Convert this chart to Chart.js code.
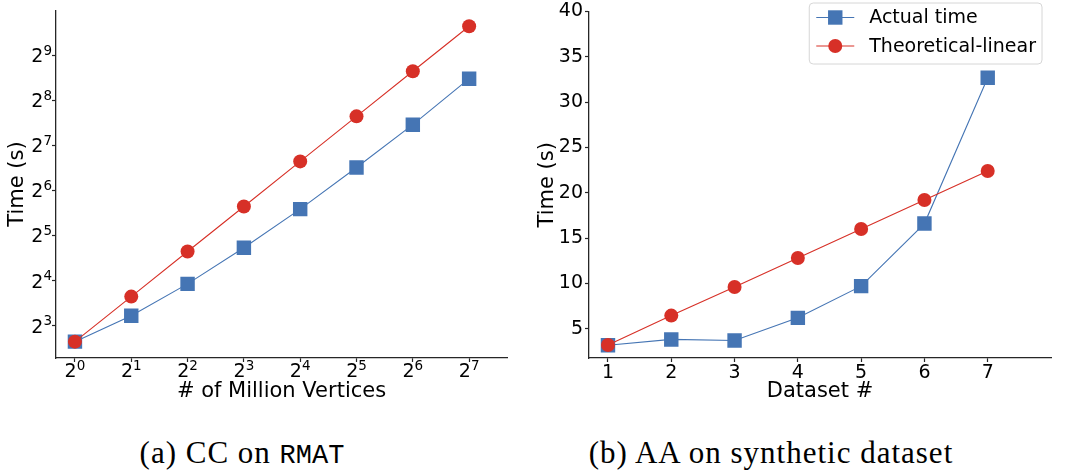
<!DOCTYPE html>
<html>
<head>
<meta charset="utf-8">
<script src="https://cdn.jsdelivr.net/npm/chart.js@4.4.0/dist/chart.umd.min.js"></script>
<style>
    body { margin: 0; background: #fff; width: 1068px; height: 476px; overflow: hidden; position: relative; }
    canvas { position: absolute; top: 0; }
    #ccChart { left: 0; }
    #aaChart { left: 534px; }
    .caption {
        position: absolute; top: 435px; transform: translateX(-50%);
        font-family: 'Liberation Serif', serif; font-size: 31px; letter-spacing: 1px;
        color: #000; white-space: nowrap;
    }
    .caption code { font-family: 'Liberation Mono', monospace; font-size: 27px; letter-spacing: 0; }
</style>
</head>
<body>
<canvas id="ccChart" width="534" height="420"></canvas>
<canvas id="aaChart" width="534" height="420"></canvas>
<div class="caption" style="left: 242px;">(a) CC on <code>RMAT</code></div>
<div class="caption" style="left: 771px;">(b) AA on synthetic dataset</div>

<script>
// (a) CC on RMAT
const ccVertices = [1, 2, 4, 8, 16, 32, 64, 128];
const ccActual = [6.25, 9.3, 15.2, 26.5, 48, 91, 176, 357];
const ccTheory = [6.25, 12.5, 25, 50, 100, 200, 400, 800];
const ccXTickLabels = ['2^0', '2^1', '2^2', '2^3', '2^4', '2^5', '2^6', '2^7'];
const ccYTicks = [8, 16, 32, 64, 128, 256, 512];
const ccYTickLabels = ['2^3', '2^4', '2^5', '2^6', '2^7', '2^8', '2^9'];

// (b) AA on synthetic dataset
const aaDatasets = [1, 2, 3, 4, 5, 6, 7];
const aaActual = [3.17, 3.82, 3.7, 6.2, 9.7, 16.6, 32.7];
const aaTheory = [3.2, 6.45, 9.6, 12.8, 16.0, 19.2, 22.4];
const aaYTicks = [5, 10, 15, 20, 25, 30, 35, 40];

const seriesNames = ['Actual time', 'Theoretical-linear'];
const BLUE = '#4575b4';
const RED = '#d73027';
const AXIS = '#262626';
const SANS = "'DejaVu Sans', sans-serif";

function toPoints(xs, ys) {
    return xs.map((x, i) => ({ x: x, y: ys[i] }));
}

// 赤を上に描くため、赤を先頭のデータセットにする
function makeDatasets(xs, actual, theory) {
    return [
        {
            label: seriesNames[1], data: toPoints(xs, theory),
            borderColor: RED, backgroundColor: RED, borderWidth: 1.1,
            pointStyle: 'circle', pointRadius: 7, pointBorderWidth: 0
        },
        {
            label: seriesNames[0], data: toPoints(xs, actual),
            borderColor: BLUE, backgroundColor: BLUE, borderWidth: 1.1,
            pointStyle: 'rect', pointRadius: 10.2, pointBorderWidth: 0
        }
    ];
}

function axisStyle(title, titlePad) {
    return {
        border: { display: true, color: AXIS, width: 1.3 },
        grid: { drawOnChartArea: false, drawTicks: true, tickLength: 4, tickColor: AXIS, tickWidth: 1.2 },
        title: { display: true, text: title, color: '#000', font: { family: SANS, size: 21 }, padding: titlePad }
    };
}

function fixedTicks(values) {
    return scale => { scale.ticks = values.map(v => ({ value: v })); };
}

// 2^n 形式の目盛りラベル(指数を小さく上付きで描く)
const powerTickLabels = {
    id: 'powerTickLabels',
    afterDraw(chart) {
        const opts = chart.options.plugins.powerTickLabels;
        if (!opts) return;
        const ctx = chart.ctx;
        const baseFont = '19px ' + SANS;
        const expFont = '13.5px ' + SANS;
        ctx.save();
        ctx.fillStyle = '#000';
        ctx.textBaseline = 'alphabetic';
        ctx.textAlign = 'left';
        const measure = (base, exp) => {
            ctx.font = baseFont;
            const wb = ctx.measureText(base).width;
            ctx.font = expFont;
            return [wb, wb + ctx.measureText(exp).width];
        };
        const draw = (base, exp, left, baseline, wb) => {
            ctx.font = baseFont;
            ctx.fillText(base, left, baseline);
            ctx.font = expFont;
            ctx.fillText(exp, left + wb, baseline - 7.3);
        };
        const xs = chart.scales.x, ys = chart.scales.y;
        opts.xValues.forEach((v, i) => {
            const [base, exp] = opts.xLabels[i].split('^');
            const [wb, w] = measure(base, exp);
            draw(base, exp, xs.getPixelForValue(v) - w / 2, xs.top + 19, wb);
        });
        opts.yValues.forEach((v, i) => {
            const [base, exp] = opts.yLabels[i].split('^');
            const [wb, w] = measure(base, exp);
            draw(base, exp, ys.right - 4 - w, ys.getPixelForValue(v) + 7, wb);
        });
        ctx.restore();
    }
};

// 凡例(プロット領域の右上に重ねて描く)
const insideLegend = {
    id: 'insideLegend',
    afterDraw(chart) {
        if (!chart.options.plugins.insideLegend) return;
        const ctx = chart.ctx;
        const area = chart.chartArea;
        const rows = [chart.data.datasets[1], chart.data.datasets[0]];
        ctx.save();
        ctx.font = '19px ' + SANS;
        const textW = Math.max(...rows.map(d => ctx.measureText(d.label).width));
        const boxW = 60 + textW + 6;
        const boxH = 61;
        const x0 = area.right - 9 - boxW;
        const y0 = 3;
        ctx.beginPath();
        ctx.roundRect(x0, y0, boxW, boxH, 4);
        ctx.fillStyle = 'rgba(255,255,255,0.85)';
        ctx.fill();
        ctx.strokeStyle = '#d6d6d6';
        ctx.lineWidth = 1;
        ctx.stroke();
        rows.forEach((d, k) => {
            const cy = y0 + 14.5 + k * 28.5;
            ctx.strokeStyle = d.borderColor;
            ctx.lineWidth = 1.1;
            ctx.beginPath();
            ctx.moveTo(x0 + 7, cy);
            ctx.lineTo(x0 + 45, cy);
            ctx.stroke();
            ctx.fillStyle = d.backgroundColor;
            Chart.helpers.drawPoint(ctx, { pointStyle: d.pointStyle, radius: d.pointRadius, rotation: 0, borderWidth: 0 }, x0 + 26, cy);
            ctx.fillStyle = '#000';
            ctx.textBaseline = 'middle';
            ctx.textAlign = 'left';
            ctx.fillText(d.label, x0 + 60, cy + 1);
        });
        ctx.restore();
    }
};

function createCCChart() {
    const xAxis = axisStyle('# of Million Vertices', { top: 0, bottom: 16 });
    const yAxis = axisStyle('Time (s)', { top: 5, bottom: 0 });
    new Chart(document.getElementById('ccChart'), {
        type: 'line',
        data: { datasets: makeDatasets(ccVertices, ccActual, ccTheory) },
        options: {
            responsive: false, animation: false, devicePixelRatio: 1,
            layout: { padding: { left: 0, top: 10, right: 27, bottom: 0 } },
            plugins: {
                legend: { display: false }, tooltip: { enabled: false },
                powerTickLabels: { xValues: ccVertices, xLabels: ccXTickLabels, yValues: ccYTicks, yLabels: ccYTickLabels }
            },
            scales: {
                x: Object.assign(xAxis, {
                    type: 'logarithmic', min: 0.792, max: 204,
                    afterBuildTicks: fixedTicks(ccVertices),
                    afterFit: s => { s.height = 62; },
                    ticks: { display: false }
                }),
                y: Object.assign(yAxis, {
                    type: 'logarithmic', min: 4.86, max: 1024,
                    afterBuildTicks: fixedTicks(ccYTicks),
                    afterFit: s => { s.width = 56; },
                    ticks: { display: false }
                })
            }
        },
        plugins: [powerTickLabels]
    });
}

function createAAChart() {
    const xAxis = axisStyle('Dataset #', { top: 0, bottom: 16 });
    const yAxis = axisStyle('Time (s)', { top: 1, bottom: 0 });
    new Chart(document.getElementById('aaChart'), {
        type: 'line',
        data: { datasets: makeDatasets(aaDatasets, aaActual, aaTheory) },
        options: {
            responsive: false, animation: false, devicePixelRatio: 1,
            layout: { padding: { left: 0, top: 10, right: 17, bottom: 0 } },
            plugins: { legend: { display: false }, tooltip: { enabled: false }, insideLegend: true },
            scales: {
                x: Object.assign(xAxis, {
                    type: 'linear', min: 0.7, max: 8,
                    afterBuildTicks: fixedTicks(aaDatasets),
                    afterFit: s => { s.height = 62; },
                    ticks: { color: '#000', font: { family: SANS, size: 19 }, padding: 0,
                             autoSkip: false, maxRotation: 0 }
                }),
                y: Object.assign(yAxis, {
                    type: 'linear', min: 1.77, max: 40,
                    afterBuildTicks: fixedTicks(aaYTicks),
                    afterFit: s => { s.width = 55; },
                    ticks: { color: '#000', font: { family: SANS, size: 19, lineHeight: 1 }, padding: 2,
                             autoSkip: false }
                })
            }
        },
        plugins: [insideLegend]
    });
}

document.addEventListener('DOMContentLoaded', () => {
    createCCChart();
    createAAChart();
});
</script>
</body>
</html>
